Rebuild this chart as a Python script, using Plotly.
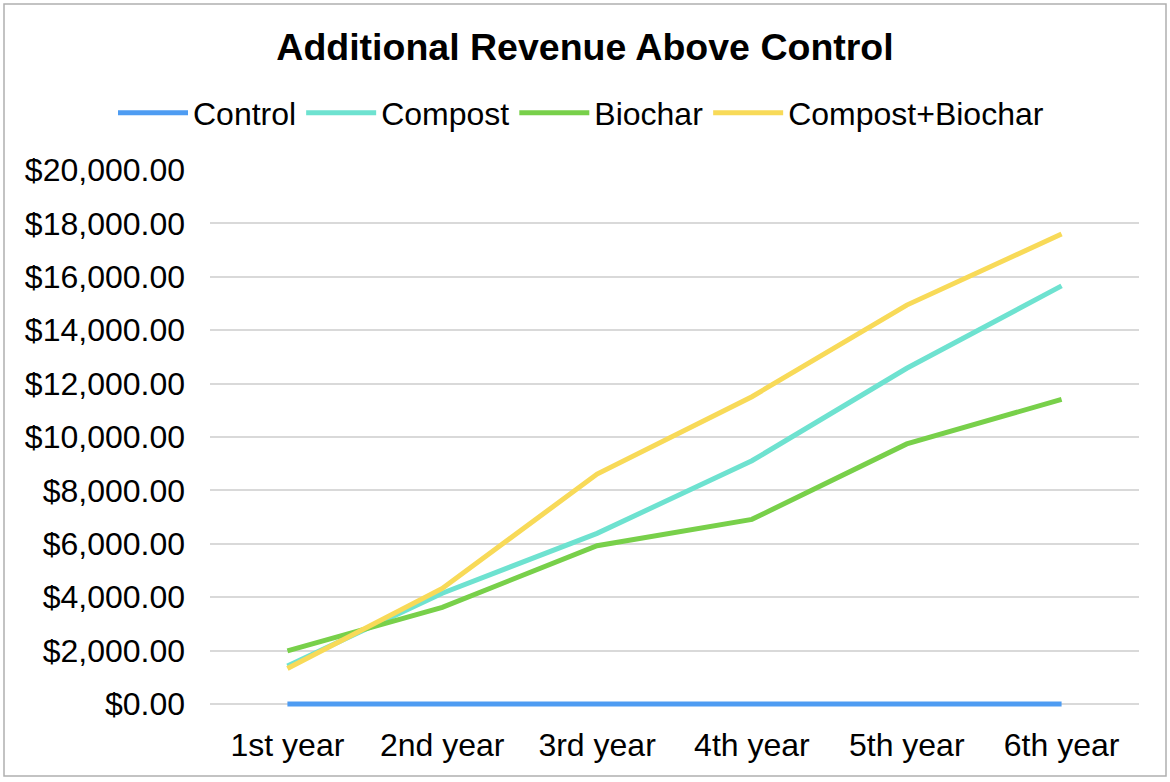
import plotly.graph_objects as go

categories = ["1st year", "2nd year", "3rd year", "4th year", "5th year", "6th year"]
control = [0, 0, 0, 0, 0, 0]
compost = [1425, 4150, 6390, 9110, 12575, 15660]
biochar = [1990, 3620, 5930, 6915, 9740, 11410]
compost_biochar = [1330, 4330, 8610, 11510, 14940, 17600]

series_names = ["Control", "Compost", "Biochar", "Compost+Biochar"]
series_values = [control, compost, biochar, compost_biochar]
series_colors = ["#4E9CF2", "#6EE2D0", "#78D04A", "#F8DA58"]

y_ticks = list(range(0, 20001, 2000))

W, H = 1170, 782
ML, MR, MT, MB = 210, 31, 170, 74
Y_MIN = -150

FONT = "Liberation Sans, Arial, sans-serif"

fig = go.Figure()
for name, vals, col in zip(series_names, series_values, series_colors):
    fig.add_trace(go.Scatter(
        x=categories, y=vals, name=name, mode="lines",
        line=dict(color=col, width=5),
    ))

pw = W - ML - MR
ph = H - MT - MB
def px_to_paper_x(px):
    return (px - ML) / pw
def px_to_paper_y(py):
    return (H - MB - py) / ph

fig.add_shape(type="rect", xref="paper", yref="paper",
              x0=px_to_paper_x(4), x1=px_to_paper_x(1166),
              y0=px_to_paper_y(776), y1=px_to_paper_y(4),
              line=dict(color="#B0B0B0", width=1.5), layer="below")

fig.update_layout(
    width=W, height=H,
    margin=dict(l=ML, r=MR, t=MT, b=MB, autoexpand=False),
    paper_bgcolor="white", plot_bgcolor="white",
    font=dict(family=FONT, color="black", size=32),
    title=dict(text="<b>Additional Revenue Above Control</b>",
               x=0.5, xref="container", xanchor="center",
               y=1 - 47 / H, yref="container", yanchor="middle",
               font=dict(family=FONT, size=37.5, color="black")),
    legend=dict(orientation="h", xref="paper", yref="paper",
                x=px_to_paper_x(113), xanchor="left",
                y=px_to_paper_y(113), yanchor="middle",
                itemwidth=70,
                font=dict(family=FONT, size=32, color="black"),
                bgcolor="rgba(0,0,0,0)"),
    showlegend=True,
)

fig.update_xaxes(type="category", range=[-0.5, 5.5], showgrid=False,
                 showline=False, zeroline=False, ticks="",
                 ticklabelstandoff=15,
                 tickfont=dict(family=FONT, size=32, color="black"))
fig.update_yaxes(range=[Y_MIN, 20000], tickvals=y_ticks, tickformat="$,.2f",
                 showgrid=True, gridcolor="#D9D9D9", gridwidth=1.5,
                 zeroline=False, showline=False, ticks="",
                 ticklabelstandoff=24,
                 tickfont=dict(family=FONT, size=32, color="black"))

fig.write_html("out.html", config={"displayModeBar": False},
               post_script="document.body.style.margin='0';")
